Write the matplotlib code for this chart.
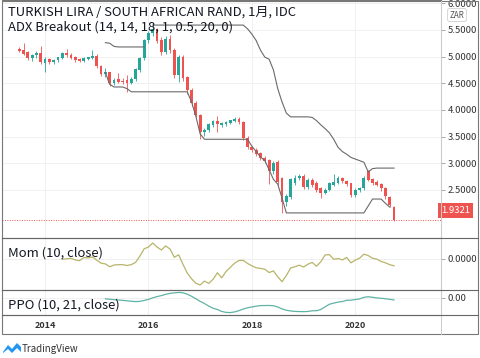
import numpy as np
import matplotlib
matplotlib.use('Agg')
import matplotlib.pyplot as plt
from matplotlib.patches import Rectangle, Polygon
from matplotlib.lines import Line2D

plt.rcParams['font.family'] = ['Noto Sans CJK JP', 'DejaVu Sans']

# monthly candles, Jul 2013 .. Oct 2020 (month index 0 = Jan 2014)
first_month = -6
opens = [5.14, 5.11, 5.07, 4.97, 5.02, 5.06,
         4.88, 4.94, 4.90, 4.93, 4.98, 5.05, 5.03, 4.98, 4.94, 4.92, 4.96, 4.98,
         5.00, 4.82, 4.68, 4.70, 4.50, 4.57, 4.54, 4.55, 4.51, 4.58, 4.75, 4.97,
         5.31, 5.44, 5.50, 5.30, 5.08, 5.33, 5.12, 4.66, 4.99, 4.60, 4.37, 4.13,
         3.90, 3.59, 3.62, 3.72, 3.78, 3.72, 3.74, 3.76, 3.80, 3.83, 3.77, 3.47,
         3.30, 3.25, 3.18, 3.10, 3.05, 2.85, 3.02, 2.72, 2.27, 2.37, 2.63, 2.72,
         2.76, 2.55, 2.68, 2.62, 2.52, 2.44, 2.50, 2.60, 2.64, 2.71, 2.66, 2.62,
         2.40, 2.50, 2.54, 2.84, 2.70, 2.64, 2.60, 2.53, 2.36, 2.18]
highs = [5.18, 5.26, 5.10, 5.05, 5.10, 5.19,
         5.00, 4.98, 4.96, 5.00, 5.08, 5.15, 5.07, 5.01, 4.97, 4.99, 5.00, 5.12,
         5.05, 4.85, 4.78, 4.72, 4.60, 4.70, 4.60, 4.66, 4.62, 4.78, 5.00, 5.33,
         5.48, 5.63, 5.54, 5.36, 5.38, 5.40, 5.16, 5.03, 5.02, 4.64, 4.42, 4.16,
         3.93, 3.66, 3.76, 3.82, 3.88, 3.78, 3.79, 3.82, 3.86, 3.86, 3.80, 3.51,
         3.33, 3.28, 3.22, 3.14, 3.08, 3.04, 3.06, 2.75, 2.42, 2.72, 2.78, 2.80,
         2.79, 2.72, 2.72, 2.66, 2.56, 2.54, 2.65, 2.80, 2.76, 2.75, 2.69, 2.64,
         2.53, 2.56, 2.76, 2.88, 2.73, 2.68, 2.63, 2.56, 2.39, 2.20]
lows = [5.08, 5.02, 4.93, 4.92, 4.98, 4.86,
        4.72, 4.86, 4.86, 4.90, 4.95, 5.00, 4.96, 4.90, 4.89, 4.90, 4.94, 4.95,
        4.78, 4.64, 4.62, 4.45, 4.47, 4.50, 4.49, 4.34, 4.48, 4.55, 4.72, 4.94,
        5.26, 5.38, 5.25, 5.02, 5.04, 5.06, 4.60, 4.52, 4.55, 4.30, 4.08, 3.86,
        3.45, 3.52, 3.58, 3.68, 3.58, 3.68, 3.70, 3.73, 3.77, 3.74, 3.43, 3.26,
        3.21, 3.14, 3.06, 3.00, 2.62, 2.80, 2.60, 2.07, 2.20, 2.33, 2.60, 2.68,
        2.52, 2.52, 2.56, 2.47, 2.35, 2.42, 2.48, 2.58, 2.62, 2.63, 2.58, 2.36,
        2.37, 2.47, 2.50, 2.66, 2.60, 2.57, 2.49, 2.34, 2.18, 1.92]
closes = [5.10, 5.05, 4.97, 5.02, 5.06, 4.90,
          4.94, 4.90, 4.93, 4.98, 5.05, 5.03, 4.98, 4.93, 4.92, 4.96, 4.98, 5.00,
          4.82, 4.68, 4.70, 4.50, 4.56, 4.53, 4.52, 4.51, 4.58, 4.75, 4.97, 5.31,
          5.44, 5.50, 5.30, 5.08, 5.33, 5.12, 4.66, 4.99, 4.60, 4.37, 4.13, 3.90,
          3.59, 3.62, 3.72, 3.78, 3.74, 3.74, 3.76, 3.80, 3.83, 3.77, 3.47, 3.30,
          3.25, 3.18, 3.10, 3.05, 2.85, 3.00, 2.65, 2.27, 2.37, 2.69, 2.72, 2.75,
          2.55, 2.68, 2.60, 2.50, 2.44, 2.50, 2.62, 2.64, 2.72, 2.66, 2.62, 2.40,
          2.50, 2.52, 2.72, 2.69, 2.64, 2.60, 2.53, 2.38, 2.22, 1.9321]

# ADX Breakout channel lines
upper1_start = 14
upper1 = [5.26, 5.25, 5.19, 5.18, 5.18, 5.18, 5.18, 5.18, 5.18, 5.18]
upper2_start = 25
upper2 = [5.59, 5.59, 5.59, 5.59, 5.59, 5.59, 5.59, 5.59, 5.59, 5.59, 5.59,
          5.59, 5.59, 5.59, 5.59, 5.59, 5.59, 5.59, 5.59, 5.59, 5.59, 5.59,
          5.52, 5.42, 5.30, 5.12, 4.99, 4.95, 4.75, 4.40, 4.15, 3.94, 3.87,
          3.87, 3.87, 3.87, 3.87, 3.86, 3.80, 3.72, 3.65, 3.57, 3.45, 3.30,
          3.22, 3.17, 3.11, 3.08, 3.05, 3.02, 2.84, 2.90, 2.91, 2.91, 2.91,
          2.91, 2.91]
lower_start = 14
lower = [4.70, 4.48, 4.43, 4.43, 4.43, 4.40, 4.34, 4.34, 4.34, 4.34, 4.34,
         4.34, 4.34, 4.34, 4.34, 4.34, 4.34, 4.34, 4.34, 4.34, 4.15, 3.88,
         3.55, 3.45, 3.45, 3.45, 3.45, 3.45, 3.45, 3.45, 3.45, 3.45, 3.45,
         3.45, 3.32, 3.22, 3.12, 3.05, 2.88, 2.70, 2.61, 2.35, 2.07, 2.07,
         2.07, 2.07, 2.07, 2.07, 2.07, 2.07, 2.07, 2.07, 2.07, 2.07, 2.07,
         2.07, 2.07, 2.07, 2.07, 2.07, 2.07, 2.20, 2.33, 2.33, 2.33, 2.25,
         2.18]

year_ticks = [0, 24, 48, 72]
year_labels = ['2014', '2016', '2018', '2020']
price_ticks = [2.5, 3.0, 3.5, 4.0, 4.5, 5.0, 5.5, 6.0]

UP = '#26a69a'
DOWN = '#ef5350'
GRID = '#f0f0f0'
TXT = '#131722'
FS = 9.4

o = np.array(opens); h = np.array(highs); l = np.array(lows); c = np.array(closes)
x = np.arange(len(c)) + first_month

def sma(v, n):
    out = np.full(len(v), np.nan)
    for i in range(n - 1, len(v)):
        out[i] = v[i - n + 1:i + 1].mean()
    return out

mom = np.full(len(c), np.nan)
mom[10:] = c[10:] - c[:-10]
s10, s21 = sma(c, 10), sma(c, 21)
ppo = (s10 - s21) / s21 * 100

W, H = 480, 358
fig = plt.figure(figsize=(W / 100, H / 100), dpi=100)

def box(x0, y0, x1, y1):
    return [x0 / W, 1 - y1 / H, (x1 - x0) / W, (y1 - y0) / H]

ax = fig.add_axes(box(2, 0, 441, 238))
axm = fig.add_axes(box(2, 238, 441, 290))
axp = fig.add_axes(box(2, 290, 441, 315))
xlim = (-10, 91.9)

for a in (ax, axm, axp):
    a.set_xlim(*xlim)
    a.set_facecolor('white')
    a.set_xticks(year_ticks)
    a.grid(True, color=GRID, lw=0.7)
    a.set_axisbelow(True)
    a.yaxis.tick_right()
    a.tick_params(axis='y', length=3, width=0.6, color='#999999', labelsize=6.8,
                  labelcolor='#333333', pad=1.5)
    a.tick_params(axis='x', length=0, labelbottom=False)
    for s in a.spines.values():
        s.set_color('#777777')
        s.set_linewidth(0.8)
    a.spines['left'].set_visible(False)
    a.spines['right'].set_color('#cccccc')

# candles
col = np.where(c >= o, UP, DOWN)
ax.vlines(x, l, h, colors=col, lw=0.6, zorder=2)
ax.bar(x, np.abs(c - o) + 0.008, bottom=np.minimum(o, c), width=0.65,
       color=col, lw=0, zorder=3)

ax.plot(np.arange(len(upper1)) + upper1_start, upper1, color='#6a6a6a', lw=0.8, zorder=4)
ax.plot(np.arange(len(upper2)) + upper2_start, upper2, color='#6a6a6a', lw=0.8, zorder=4)
ax.plot(np.arange(len(lower)) + lower_start, lower, color='#6a6a6a', lw=0.8, zorder=4)

ax.set_ylim(1.60, 6.06)
ax.set_yticks(price_ticks)
ax.set_yticklabels(['%.4f' % p for p in price_ticks])
ax.spines['bottom'].set_visible(False)

# last price line and label
ax.axhline(c[-1], color=DOWN, ls=(0, (1, 1.5)), lw=0.7, zorder=1)
ax.annotate('%.4f' % c[-1], xy=(1.0, c[-1]), xycoords=('axes fraction', 'data'),
            xytext=(0, 7), textcoords='offset points', ha='left', va='center',
            fontsize=6.8, color='white',
            bbox=dict(boxstyle='square,pad=0.3', fc=DOWN, ec='none'),
            annotation_clip=False, zorder=10)
fig.text(457 / W, 1 - 15 / H, 'ZAR', fontsize=5.8, color='#555555', ha='center',
         va='center', bbox=dict(boxstyle='round,pad=0.25', fc='white', ec='#d0d0d0', lw=0.6))

ax.text(6 / 439, 1 - 12 / 238, 'TURKISH LIRA / SOUTH AFRICAN RAND, 1月, IDC',
        transform=ax.transAxes, fontsize=FS, color=TXT, va='center', zorder=5)
ax.text(6 / 439, 1 - 27 / 238, 'ADX Breakout (14, 14, 18, 1, 0.5, 20, 0)',
        transform=ax.transAxes, fontsize=FS, color=TXT, va='center', zorder=5)

# momentum
axm.plot(x, mom, color='#b8b46a', lw=0.9)
axm.margins(y=0.12)
axm.set_yticks([0])
axm.set_yticklabels(['0.0000'])
axm.spines['bottom'].set_visible(False)
axm.text(6 / 439, 0.71, 'Mom (10, close)', transform=axm.transAxes,
         fontsize=FS, color=TXT, va='center')

# price oscillator
axp.plot(x, ppo, color='#5fb3a5', lw=0.9)
axp.margins(y=0.12)
axp.set_yticks([0])
axp.set_yticklabels(['0.00'])
axp.text(6 / 439, 0.38, 'PPO (10, 21, close)', transform=axp.transAxes,
         fontsize=FS, color=TXT, va='center')

# time axis labels
for t, lab in zip(year_ticks, year_labels):
    xf = (2 + (t - xlim[0]) / (xlim[1] - xlim[0]) * 439) / W
    fig.text(xf, 1 - 325 / H, lab, fontsize=6.5, color='#333333', ha='center',
             va='center', fontweight='bold')

# outer frame and separators
fig.add_artist(Rectangle((2 / W, 1 - 334 / H), 476 / W, 333 / H, transform=fig.transFigure,
                         fill=False, ec='#777777', lw=0.8))
fig.add_artist(Line2D([441 / W, 441 / W], [1 - 334 / H, 1 - 1 / H], transform=fig.transFigure,
                      color='#cccccc', lw=0.7))
for yy in (238, 290, 315):
    fig.add_artist(Line2D([2 / W, 478 / W], [1 - yy / H, 1 - yy / H],
                          transform=fig.transFigure, color='#666666', lw=0.8))

# TradingView mark
logo = [(3, 352), (8, 345), (12, 349), (17, 343), (21, 347), (21, 352), (17, 348),
        (12, 353), (8, 349), (3, 353)]
fig.add_artist(Polygon([(px / W, 1 - py / H) for px, py in logo], closed=True,
                       transform=fig.transFigure, fc='#2196f3', ec='none'))
fig.text(22 / W, 1 - 349 / H, 'TradingView', fontsize=7, color='#333333', va='center')

fig.savefig('out.png', dpi=100, facecolor='white')
